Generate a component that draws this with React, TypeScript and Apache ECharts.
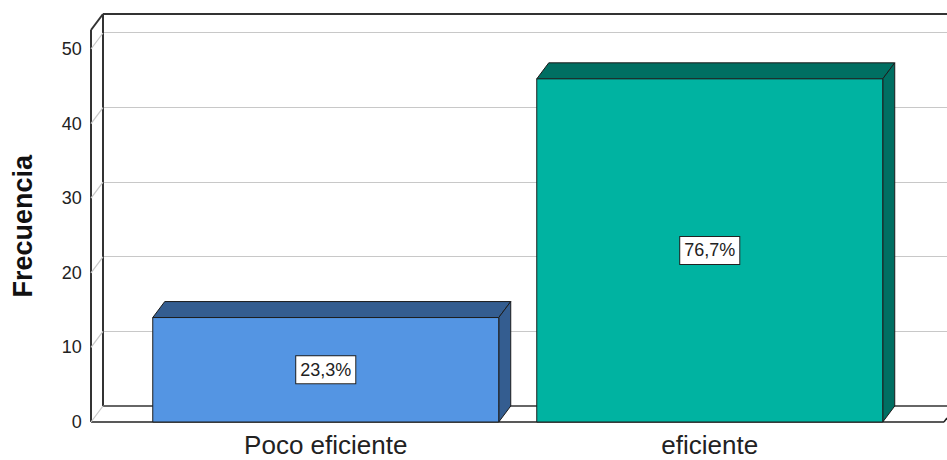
import React, { useEffect, useRef } from "react";
import * as echarts from "echarts";

const categories = ["Poco eficiente", "eficiente"];
const frequencies = [14, 46];
const yTicks = [0, 10, 20, 30, 40, 50];
const frontColors = ["#5495e3", "#00b3a1"];
const darkColors = ["#345d90", "#006f62"];

const FONT = "'Liberation Sans', Arial, Helvetica, sans-serif";
const DX = 12;
const DY = -16;
const Y_MAX = 52.5;

export default function App() {
  const ref = useRef<HTMLDivElement>(null);

  useEffect(() => {
    const chart = echarts.init(ref.current!, null, { renderer: "svg" });
    const total = frequencies.reduce((a, b) => a + b, 0);
    const pct = (v: number) => ((v / total) * 100).toFixed(1).replace(".", ",") + "%";

    const option: any = {
      animation: false,
      backgroundColor: "#ffffff",
      grid: [
        { left: 133.75, width: 768, top: 30.35, bottom: 38, containLabel: false, outerBoundsMode: "none" },
        { left: 103, right: 0, top: 14, bottom: 54, containLabel: false, outerBoundsMode: "none" },
      ],
      xAxis: [
        {
          type: "category",
          gridIndex: 0,
          data: categories,
          axisLine: { show: false },
          axisTick: { show: false },
          splitLine: { show: false },
          axisLabel: { fontSize: 26, color: "#222", margin: 10, fontFamily: FONT },
        },
        { type: "value", gridIndex: 1, show: false, min: 0, max: 1 },
      ],
      yAxis: [
        {
          type: "value",
          gridIndex: 0,
          min: 0,
          max: Y_MAX,
          interval: 10,
          axisLine: { show: false },
          axisTick: { show: false },
          splitLine: { show: false },
          axisLabel: {
            fontSize: 18,
            color: "#222",
            margin: 52,
            fontFamily: FONT,
            showMaxLabel: false,
            formatter: (v: number) => (yTicks.indexOf(v) >= 0 ? String(v) : ""),
          },
          name: "Frecuencia",
          nameLocation: "middle",
          nameGap: 97,
          nameTextStyle: { fontSize: 27, fontWeight: "bold", color: "#111", fontFamily: FONT },
        },
        {
          type: "value",
          gridIndex: 1,
          min: 0,
          max: Y_MAX,
          interval: 10,
          axisLine: { show: false },
          axisTick: { show: false },
          axisLabel: { show: false },
          splitLine: { show: true, lineStyle: { color: "#c8c8c8", width: 1.2 } },
        },
      ],
      graphic: [
        { type: "line", z: 1, shape: { x1: 103, y1: 14, x2: 947, y2: 14 }, style: { stroke: "#333", lineWidth: 2 } },
        { type: "line", z: 1, shape: { x1: 103, y1: 14, x2: 103, y2: 406 }, style: { stroke: "#333", lineWidth: 2 } },
        { type: "line", z: 1, shape: { x1: 103, y1: 406, x2: 947, y2: 406 }, style: { stroke: "#666", lineWidth: 2 } },
        { type: "line", z: 1, shape: { x1: 91, y1: 30, x2: 91, y2: 422 }, style: { stroke: "#333", lineWidth: 2 } },
        { type: "line", z: 1, shape: { x1: 91, y1: 30, x2: 103, y2: 14 }, style: { stroke: "#333", lineWidth: 2 } },
        { type: "line", z: 1, shape: { x1: 91, y1: 422, x2: 944, y2: 422 }, style: { stroke: "#222", lineWidth: 1.5 } },
        { type: "line", z: 1, shape: { x1: 944, y1: 422, x2: 947, y2: 418 }, style: { stroke: "#222", lineWidth: 1.5 } },
      ],
      series: [
        {
          type: "custom",
          name: "grid-diagonals",
          xAxisIndex: 0,
          yAxisIndex: 0,
          z: 1,
          silent: true,
          data: yTicks.map((t) => [0, t]),
          renderItem: (params: any, api: any) => {
            const p = api.coord([0, api.value(1)]);
            const y = p[1];
            return {
              type: "line",
              shape: { x1: 91, y1: y, x2: 103, y2: y + DY },
              style: { stroke: "#c8c8c8", lineWidth: 1.2 },
            };
          },
        },
        {
          type: "custom",
          name: "Frecuencia",
          xAxisIndex: 0,
          yAxisIndex: 0,
          z: 3,
          data: frequencies.map((v, i) => [i, v]),
          renderItem: (params: any, api: any) => {
            const i = api.value(0);
            const v = api.value(1);
            const top = api.coord([i, v]);
            const base = api.coord([i, 0]);
            const band = api.size([1, 0])[0];
            const w = band * 0.901;
            const x0 = top[0] - w / 2;
            const x1 = top[0] + w / 2;
            const yT = top[1];
            const yB = base[1];
            const stroke = "#1c1c1c";
            const front = frontColors[params.dataIndex];
            const dark = darkColors[params.dataIndex];
            return {
              type: "group",
              children: [
                {
                  type: "polygon",
                  shape: { points: [[x0, yT], [x0 + DX, yT + DY], [x1 + DX, yT + DY], [x1, yT]] },
                  style: { fill: dark, stroke, lineWidth: 1 },
                },
                {
                  type: "polygon",
                  shape: { points: [[x1, yT], [x1 + DX, yT + DY], [x1 + DX, yB + DY], [x1, yB]] },
                  style: { fill: dark, stroke, lineWidth: 1 },
                },
                {
                  type: "rect",
                  shape: { x: x0, y: yT, width: w, height: yB - yT },
                  style: { fill: front, stroke, lineWidth: 1 },
                },
                {
                  type: "text",
                  x: (x0 + x1) / 2,
                  y: (yT + yB) / 2,
                  style: {
                    text: pct(v),
                    fill: "#222",
                    font: `18px ${FONT}`,
                    align: "center",
                    verticalAlign: "middle",
                    backgroundColor: "#ffffff",
                    borderColor: "#222",
                    borderWidth: 1,
                    padding: [5, 4, 4, 4],
                  },
                },
              ],
            };
          },
        },
      ],
    };

    chart.setOption(option);
    return () => chart.dispose();
  }, []);

  return (
    <div
      ref={ref}
      style={{ position: "fixed", left: 0, top: 0, width: 947, height: 460 }}
    />
  );
}
